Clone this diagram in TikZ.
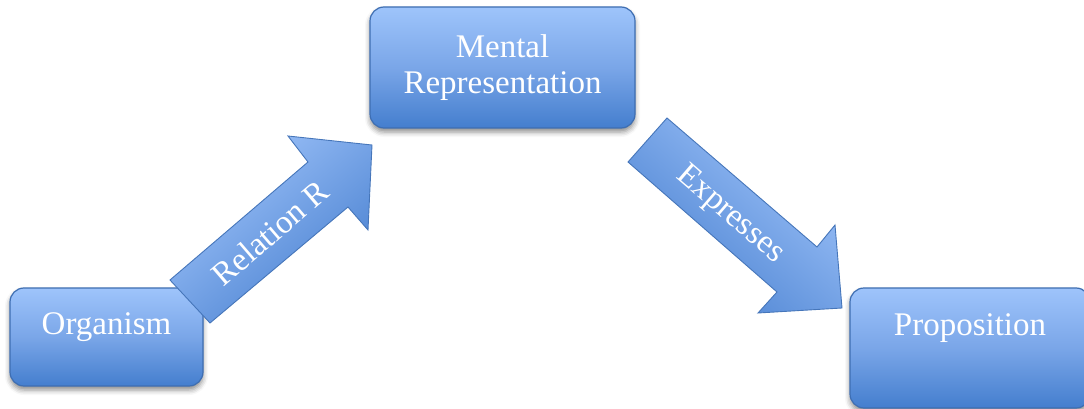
\documentclass[tikz,border=0pt]{standalone}
\usepackage{fontspec}
\setmainfont{Liberation Serif}
\usetikzlibrary{shadows.blur}
\definecolor{boxtop}{RGB}{158,196,251}
\definecolor{boxmid}{RGB}{122,166,232}
\definecolor{boxbot}{RGB}{68,126,206}
\definecolor{boxline}{RGB}{62,110,178}
\definecolor{arrlight}{RGB}{160,196,250}
\definecolor{arrdark}{RGB}{72,128,208}
\definecolor{arrline}{RGB}{70,118,186}
\begin{document}
\begin{tikzpicture}[x=1pt,y=-1pt,
  box/.style={draw=boxline, line width=1.2pt, rounded corners=14pt,
    top color=boxtop, bottom color=boxbot, middle color=boxmid,
    text=white, font=\fontsize{33}{36}\selectfont, inner sep=0pt,
    blur shadow={shadow xshift=0pt, shadow yshift=-4pt, shadow blur radius=5pt, shadow opacity=45}},
  blockarrow/.style={draw=arrline, line width=0.9pt, top color=arrlight, bottom color=arrdark},
  arrtext/.style={text=white, font=\fontsize{33}{36}\selectfont, inner sep=0pt}
  ]
\useasboundingbox (0,0) rectangle (1084,409);
\node[box, minimum width=193pt, minimum height=98pt, text height=24pt, text depth=30pt] (org) at (106.5,337) {Organism};
\node[box, minimum width=265pt, minimum height=121pt, align=center] (mr) at (502.5,67.5) {Mental\\Representation};
\node[box, minimum width=240pt, minimum height=120pt, text height=24pt, text depth=50pt] (prop) at (970,348) {Proposition};
% block arrows
\path[blockarrow, shading angle=40] (170,280) -- (308,162) -- (288,136) -- (372,145) -- (368,230) -- (348,207) -- (210,323) -- cycle;
\path[blockarrow, shading angle=-41] (667,118) -- (817,247) -- (835,225) -- (842,308) -- (758,313) -- (777,292) -- (628,162) -- cycle;
\node[arrtext, rotate=40.7] (relR) at (270,233) {Relation R};
\node[arrtext, rotate=-40.7] (expr) at (730,215) {Expresses};
\end{tikzpicture}
\end{document}
